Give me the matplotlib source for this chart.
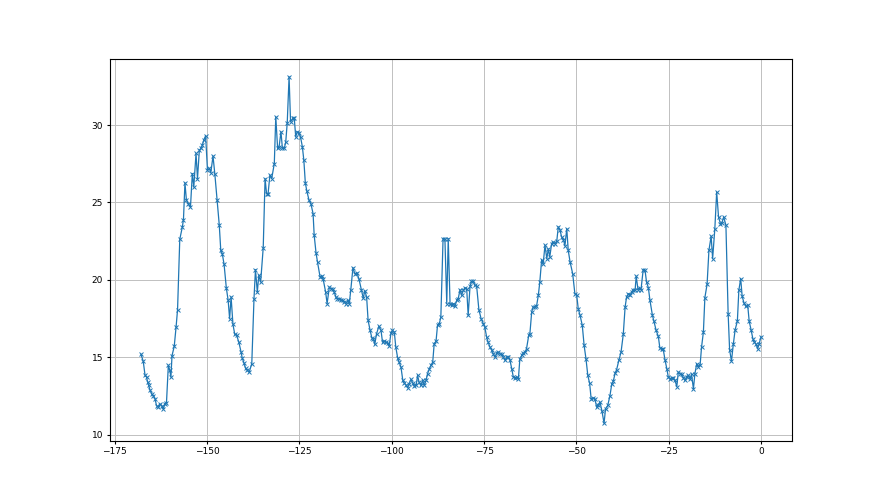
import matplotlib
matplotlib.use('Agg')  # no display here

import matplotlib.pyplot as plt

# x positions, one segment per line of roughly 60 points
xs = [
    -167.9, -167.3, -166.8, -166.4, -166.1, -165.8, -165.5, -165.0, -164.6, -164.1,
    -163.7, -163.2, -162.8, -162.3, -161.9, -161.4, -161.0, -160.5, -160.1, -159.8,
    -159.5, -158.9, -158.4, -158.0, -157.4, -156.7, -156.4, -156.0, -155.6, -155.1,
    -154.5, -154.0, -153.6, -153.0, -152.6, -152.1, -151.7, -151.3, -150.9, -150.4,
    -149.9, -149.4, -149.0, -148.4, -147.9, -147.3, -146.7, -146.3, -145.9, -145.4,
    -144.8, -144.3, -143.9, -143.5, -143.0, -142.5, -142.0, -141.4, -140.8, -140.5,
    -140.0, -139.6, -139.1, -138.6,
    -137.9, -137.3, -136.9, -136.4, -136.0, -135.5, -134.8, -134.3, -133.9, -133.5,
    -133.0, -132.5, -131.8, -131.4, -130.9, -130.5, -130.0, -129.6, -129.1, -128.7,
    -128.3, -127.8, -127.4, -126.8, -126.4, -126.0, -125.6, -125.1, -124.7, -124.2,
    -123.8, -123.4, -123.0, -122.4, -121.9, -121.3, -121.0, -120.5, -120.1, -119.4,
    -119.0, -118.6, -117.9, -117.5, -116.9, -116.5, -116.0, -115.6, -115.1, -114.7,
    -114.2, -113.8, -113.3, -112.9, -112.4, -111.9, -111.5, -111.1, -110.5, -110.0,
    -109.4, -108.9,
    -108.2, -107.7, -107.3, -106.8, -106.4, -105.9, -105.4, -105.0, -104.6, -104.1,
    -103.5, -102.9, -102.5, -102.0, -101.6, -101.1, -100.7, -100.2, -99.8, -99.3,
    -98.9, -98.4, -98.0, -97.5, -97.0, -96.6, -96.2, -95.7, -95.3, -94.8,
    -94.3, -93.9, -93.4, -93.0, -92.6, -92.1, -91.6, -91.2, -90.7, -90.3,
    -89.8, -89.4, -88.9, -88.5, -88.0, -87.6, -87.1, -86.7, -86.1, -85.6,
    -85.1, -84.7, -84.2, -83.8, -83.3, -82.9, -82.4, -82.0, -81.5, -81.1,
    -80.6, -80.2, -79.7, -79.3, -78.8, -78.4, -77.9, -77.5, -77.0, -76.4,
    -75.8, -75.2,
    -74.8, -74.3, -73.9, -73.4, -72.9, -72.5, -72.0, -71.6, -71.2, -70.7,
    -70.2, -69.8, -69.3, -68.9, -68.4, -68.0, -67.5, -67.1, -66.6, -66.2,
    -65.7, -65.3, -64.8, -64.4, -63.9, -63.5, -62.9, -62.6, -62.1, -61.7,
    -61.2, -60.8, -60.3, -59.9, -59.4, -59.0, -58.5, -58.0, -57.6, -57.2,
    -56.7, -56.3, -55.8, -55.3, -54.9, -54.4, -54.0, -53.5, -53.1, -52.6,
    -52.2, -51.7, -51.0, -50.4, -49.9, -49.5, -49.0, -48.4, -47.9, -47.4,
    -46.9, -46.4, -46.0, -45.4, -45.0, -44.5, -44.1, -43.6, -43.1, -42.5,
    -42.1, -41.5, -40.9, -40.4, -40.0, -39.5, -39.1, -38.5, -37.9, -37.3,
    -36.8, -36.4, -35.9, -35.5, -35.0, -34.6, -34.1, -33.8, -33.3, -32.9,
    -32.5, -31.9, -31.4, -31.0, -30.5, -30.1, -29.4, -29.0, -28.4, -27.8,
    -27.4, -26.9, -26.5, -26.0, -25.5, -25.1, -24.6, -24.2, -23.8, -23.3,
    -22.8, -22.4, -21.9, -21.5, -21.0, -20.6, -20.1, -19.7, -19.2, -18.8,
    -18.3, -17.9, -17.4, -17.0, -16.5, -16.1, -15.6, -15.2,
    -14.6, -14.1, -13.5, -13.1, -12.5, -12.0, -11.5, -11.0, -10.6, -10.1,
    -9.5, -8.9, -8.5, -8.0, -7.5, -7.0, -6.4, -6.0, -5.5, -5.1,
    -4.6, -4.1, -3.6, -3.2, -2.7, -2.2, -1.8, -1.4, -0.9, -0.5,
    0.0,
]

ys = [
    15.18, 14.74, 13.82, 13.71, 13.39, 13.17, 12.90, 12.63, 12.52, 12.30,
    11.87, 11.77, 11.98, 11.87, 11.66, 11.98, 12.05, 14.47, 14.14, 13.71,
    15.10, 15.70, 16.95, 18.07, 22.62, 23.42, 23.90, 26.27, 25.15, 24.93,
    24.71, 26.87, 26.00, 28.17, 26.55, 28.38, 28.49, 28.70, 29.03, 29.31,
    27.09, 27.20, 26.92, 28.00, 26.83, 25.19, 23.53, 21.91, 21.70, 21.00,
    19.49, 18.67, 17.49, 18.89, 17.12, 16.47, 16.41, 15.97, 15.33, 14.96,
    14.62, 14.29, 14.14, 14.03,
    14.58, 18.78, 20.66, 19.21, 20.29, 19.86, 22.08, 26.55, 25.58, 25.53,
    26.76, 26.55, 27.52, 30.54, 28.49, 28.60, 29.57, 28.49, 28.49, 28.92,
    30.15, 33.13, 30.22, 30.43, 30.47, 29.24, 29.57, 29.50, 29.24, 28.60,
    27.73, 26.27, 25.75, 25.15, 24.93, 24.28, 22.88, 21.74, 21.15, 20.18,
    20.25, 20.08, 19.21, 18.46, 19.53, 19.43, 19.43, 19.21, 18.89, 18.78,
    18.78, 18.72, 18.67, 18.56, 18.46, 18.67, 18.46, 19.32, 20.79, 20.40,
    20.44, 20.08,
    19.32, 18.80, 19.30, 18.89, 17.38, 16.78, 16.26, 16.19, 15.83, 16.52,
    16.99, 16.73, 15.97, 16.04, 15.97, 15.91, 15.72, 16.56, 16.73, 16.62,
    15.65, 14.96, 14.68, 14.36, 13.50, 13.32, 13.22, 13.02, 13.28, 13.56,
    13.32, 13.13, 13.17, 13.82, 13.39, 13.17, 13.50, 13.17, 13.50, 13.93,
    14.25, 14.47, 14.68, 15.87, 16.04, 17.06, 17.17, 17.59, 22.67, 22.67,
    18.46, 22.67, 18.41, 18.35, 18.46, 18.28, 18.67, 18.78, 19.36, 19.00,
    19.32, 19.49, 19.43, 17.70, 19.58, 19.90, 19.92, 19.64, 19.58, 18.07,
    17.49, 17.17,
    16.95, 16.30, 15.97, 15.65, 15.44, 15.22, 15.00, 15.26, 15.33, 15.22,
    15.18, 15.00, 14.79, 15.00, 15.00, 14.83, 14.25, 13.75, 13.67, 13.71,
    13.60, 14.90, 15.11, 15.26, 15.33, 15.54, 16.41, 16.47, 17.92, 18.24,
    18.24, 18.28, 19.00, 19.86, 21.30, 21.00, 22.23, 21.37, 22.00, 21.48,
    22.34, 22.45, 22.34, 22.51, 23.42, 23.20, 22.77, 22.60, 22.20, 23.31,
    21.90, 21.15, 20.40, 19.10, 19.00, 18.14, 17.70, 17.06, 15.76, 14.90,
    13.82, 13.30, 12.31, 12.35, 12.31, 11.77, 11.94, 12.09, 11.55, 10.73,
    11.66, 11.88, 12.52, 13.28, 13.45, 13.97, 14.19, 14.79, 15.33, 16.47,
    18.24, 18.89, 19.10, 19.00, 19.21, 19.36, 19.32, 20.23, 19.36, 19.49,
    19.36, 20.66, 20.61, 19.86, 19.49, 18.72, 17.70, 17.33, 16.73, 16.34,
    15.61, 15.50, 15.54, 14.83, 14.25, 13.71, 13.60, 13.67, 13.67, 13.50,
    13.10, 14.03, 13.93, 13.88, 13.67, 13.50, 13.75, 13.82, 13.60, 13.88,
    12.95, 13.93, 14.58, 14.36, 14.47, 15.65, 16.62, 18.85,
    19.71, 21.91, 22.82, 21.37, 23.31, 25.68, 24.06, 23.64, 23.68, 24.06,
    23.53, 17.81, 15.48, 14.74, 15.83, 16.78, 17.33, 19.32, 20.08, 18.93,
    18.50, 18.28, 18.35, 17.33, 16.78, 16.19, 15.97, 15.87, 15.54, 15.87,
    16.30,
]

plt.rcParams['font.size'] = 6.5

fig = plt.figure(figsize=(8.8, 4.95), dpi=100)
ax = fig.add_subplot(111)

ax.plot(xs, ys, color='#1f77b4', linewidth=0.9, marker='x', markersize=3, markeredgewidth=0.7)

ax.grid(True, color='#c0c0c0', linewidth=0.7)  # lighter grid like the reference
ax.tick_params(length=2.5, pad=2.5)

plt.savefig('out.png', dpi=100)
